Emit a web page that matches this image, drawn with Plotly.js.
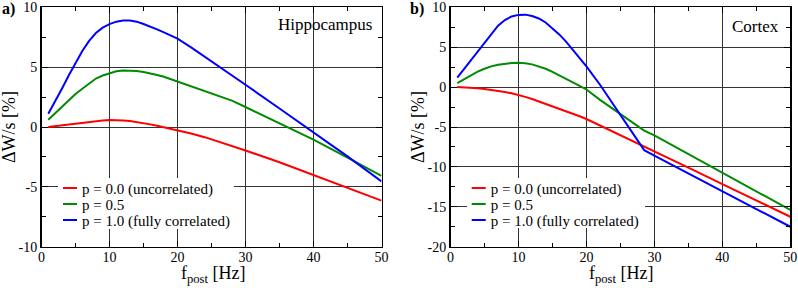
<!DOCTYPE html>
<html><head><meta charset="utf-8">
<script src="https://cdn.plot.ly/plotly-3.0.1.min.js"></script>
<style>html,body{margin:0;padding:0;background:#fff;}</style>
</head><body>
<div id="chart" style="width:798px;height:288px;"></div>
<script>
// ---- data ----
const freqHippo = [1,2,3,4,5,6,7,8,9,10,11,12,13,14,15,16,17,18,19,20,22,24,26,28,30,35,40,45,50];
const hippoUncorr = [0,0.05,0.12,0.2,0.28,0.36,0.44,0.5,0.55,0.58,0.58,0.55,0.5,0.42,0.33,0.22,0.1,-0.02,-0.15,-0.3,-0.55,-0.85,-1.2,-1.58,-1.96,-2.95,-4.0,-5.05,-6.15];
const hippoHalf = [0.6,1.15,1.7,2.25,2.75,3.2,3.65,4.05,4.3,4.5,4.65,4.72,4.72,4.68,4.6,4.5,4.35,4.2,4.0,3.8,3.45,3.05,2.65,2.2,1.67,0.3,-1.06,-2.55,-4.08];
const hippoFull = [1.1,2.1,3.2,4.3,5.3,6.35,7.2,7.85,8.3,8.6,8.8,8.9,8.9,8.8,8.6,8.4,8.15,7.9,7.65,7.38,6.65,5.88,5.1,4.32,3.53,1.55,-0.45,-2.45,-4.55];

const freqCortex = [1,2,3,4,5,6,7,8,9,10,11,12,13,14,15,16,17,18,19,20,22,24,26,28,28.5,30,35,40,45,50];
const cortexUncorr = [0,-0.02,-0.07,-0.15,-0.24,-0.35,-0.47,-0.62,-0.78,-0.97,-1.22,-1.5,-1.8,-2.1,-2.4,-2.7,-3.0,-3.35,-3.65,-4.0,-4.8,-5.6,-6.45,-7.25,-7.45,-8.05,-10.1,-12.15,-14.2,-16.25];
const cortexHalf = [0.5,1.0,1.5,1.95,2.3,2.6,2.8,2.95,3.02,3.05,3.0,2.85,2.6,2.3,1.9,1.5,1.05,0.6,0.15,-0.3,-1.6,-2.8,-4.0,-5.2,-5.45,-6.05,-8.4,-10.7,-13.05,-15.4];
const cortexFull = [1.2,2.3,3.4,4.5,5.6,6.65,7.7,8.4,8.85,9.05,9.08,8.9,8.6,8.1,7.4,6.6,5.7,4.7,3.7,2.6,0.3,-2.2,-4.8,-7.3,-7.9,-8.6,-10.85,-13.1,-15.3,-17.5];

const seriesNames = ['p = 0.0 (uncorrelated)', 'p = 0.5', 'p = 1.0 (fully correlated)'];
const seriesColors = ['#ff0000', '#008b00', '#0000ff'];
const panelNames = ['Hippocampus', 'Cortex'];
const panelLetters = ['a)', 'b)'];
const xTickVals = [0,10,20,30,40,50];
const xTickText = ['0','10','20','30','40','50'];
const yTickValsA = [-10,-5,0,5,10];
const yTickTextA = ['-10','-5','0','5','10'];
const yTickValsB = [-20,-15,-10,-5,0,5,10];
const yTickTextB = ['-20','-15','-10','-5','0','5','10'];
const yTitle = 'ΔW/s [%]';
const xTitle = 'f<sub>post</sub> [Hz]';

// ---- figure ----
const W = 798, H = 288;
const FONT = '"Liberation Serif", "Times New Roman", serif';
const px = v => v / W;
const py = v => (H - v) / H;

const traces = [];
const hippo = [hippoUncorr, hippoHalf, hippoFull];
const cortex = [cortexUncorr, cortexHalf, cortexFull];
hippo.forEach((ys, i) => traces.push({
  x: freqHippo, y: ys, type: 'scatter', mode: 'lines', name: seriesNames[i],
  line: {color: seriesColors[i], width: 2}, xaxis: 'x', yaxis: 'y', legend: 'legend'
}));
cortex.forEach((ys, i) => traces.push({
  x: freqCortex, y: ys, type: 'scatter', mode: 'lines', name: seriesNames[i],
  line: {color: seriesColors[i], width: 2}, xaxis: 'x2', yaxis: 'y2', legend: 'legend2'
}));

function xAxis(domain, anchor) {
  return {
    domain: domain, anchor: anchor, range: [0, 50], tickmode: 'array',
    tickvals: xTickVals, ticktext: xTickText,
    showline: true, linecolor: '#000', linewidth: 1.5, mirror: 'allticks',
    ticks: 'inside', ticklen: 6, tickcolor: '#000', tickwidth: 1,
    showgrid: true, gridcolor: '#333', gridwidth: 1, zeroline: false,
    minor: {dtick: 5, tick0: 0, ticks: 'inside', ticklen: 4, tickcolor: '#000', showgrid: false},
    tickfont: {family: FONT, size: 14, color: '#000'}, ticklabelstandoff: -3, fixedrange: true
  };
}
function yAxis(range, vals, text, anchor) {
  return {
    domain: [py(246.7), py(7.3)], anchor: anchor, range: range, tickmode: 'array',
    tickvals: vals, ticktext: text,
    showline: true, linecolor: '#000', linewidth: 1.5, mirror: 'allticks',
    ticks: 'inside', ticklen: 6, tickcolor: '#000', tickwidth: 1,
    showgrid: true, gridcolor: '#333', gridwidth: 1, zeroline: false,
    minor: {dtick: 2.5, tick0: 0, ticks: 'inside', ticklen: 4, tickcolor: '#000', showgrid: false},
    tickfont: {family: FONT, size: 14, color: '#000'}, fixedrange: true
  };
}
function legendCfg(xpx) {
  return {
    x: px(xpx), y: py(178), xanchor: 'left', yanchor: 'top',
    bgcolor: '#ffffff', borderwidth: 0, tracegroupgap: 0,
    font: {family: FONT, size: 15, color: '#000'}
  };
}
function ann(text, x, y, size, xanchor, extra) {
  return Object.assign({
    text: text, x: x, y: y, xref: 'paper', yref: 'paper', showarrow: false,
    xanchor: xanchor, yanchor: 'middle', font: {family: FONT, size: size, color: '#000'}
  }, extra || {});
}

const layout = {
  width: W, height: H, margin: {l: 0, r: 0, t: 0, b: 0},
  font: {family: FONT, size: 14, color: '#000'},
  paper_bgcolor: '#fff', plot_bgcolor: '#fff', showlegend: true,
  xaxis: xAxis([px(41.5), px(381.5)], 'y'),
  yaxis: yAxis([-10, 10], yTickValsA, yTickTextA, 'x'),
  xaxis2: xAxis([px(450.5), px(790.3)], 'y2'),
  yaxis2: yAxis([-20, 10], yTickValsB, yTickTextB, 'x2'),
  legend: legendCfg(42),
  legend2: legendCfg(450.7),
  annotations: [
    ann('<b>' + panelLetters[0] + '</b>', px(0), py(9), 16, 'left'),
    ann('<b>' + panelLetters[1] + '</b>', px(408), py(9), 16, 'left'),
    ann(panelNames[0], px(374), py(24), 17, 'right'),
    ann(panelNames[1], px(781), py(26), 17, 'right'),
    ann(yTitle, px(9), py(127), 18, 'center', {textangle: -90}),
    ann(yTitle, px(418), py(127), 18, 'center', {textangle: -90}),
    ann(xTitle, px(213), py(274), 18, 'center'),
    ann(xTitle, px(621), py(274), 18, 'center')
  ]
};

const boxes = [{w: 176, h: 51}, {w: 178, h: 50}];
function fixLegends(gd) {
  try {
    const legs = gd.querySelectorAll('g.legend, g.legend2');
    legs.forEach((lg, k) => {
      const items = lg.querySelectorAll('g.traces');
      items.forEach((it, i) => {
        it.setAttribute('transform', 'translate(0,' + (10 + i * 16) + ')');
        const p = it.querySelector('.legendlines path');
        if (p) p.setAttribute('d', 'M21,0h14');
      });
      const bg = lg.querySelector('rect.bg');
      const b = boxes[k] || boxes[0];
      if (bg) {
        bg.setAttribute('x', 16); bg.setAttribute('y', 0);
        bg.setAttribute('width', b.w); bg.setAttribute('height', b.h);
      }
    });
  } catch (e) {}
}

Plotly.newPlot('chart', traces, layout, {staticPlot: true, displayModeBar: false})
  .then(gd => fixLegends(gd));
</script>
</body></html>
